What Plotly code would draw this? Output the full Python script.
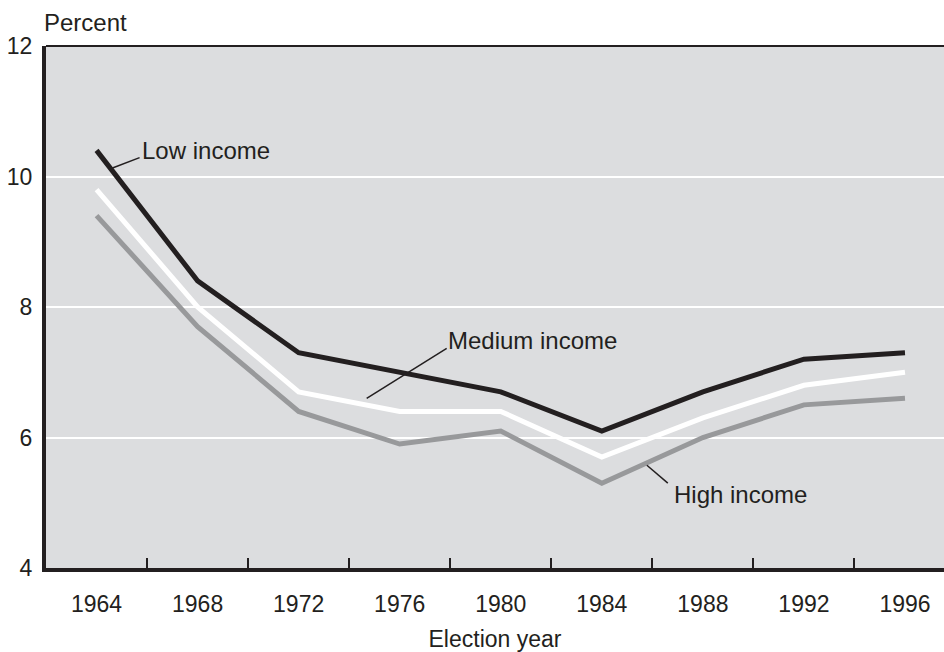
import plotly.graph_objects as go

years = ["1964", "1968", "1972", "1976", "1980", "1984", "1988", "1992", "1996"]
low_income = [10.4, 8.4, 7.3, 7.0, 6.7, 6.1, 6.7, 7.2, 7.3]
medium_income = [9.8, 8.0, 6.7, 6.4, 6.4, 5.7, 6.3, 6.8, 7.0]
high_income = [9.4, 7.7, 6.4, 5.9, 6.1, 5.3, 6.0, 6.5, 6.6]
y_ticks = [4, 6, 8, 10, 12]

FONT = "Liberation Sans, Arial, sans-serif"
DARK = "#231f20"
GREY = "#98999b"
BG = "#dcdddf"
FS = 23
FS_LABEL = 24

fig = go.Figure()
fig.add_trace(go.Scatter(x=years, y=high_income, mode="lines",
                         line=dict(color=GREY, width=5), name="High income"))
fig.add_trace(go.Scatter(x=years, y=medium_income, mode="lines",
                         line=dict(color="white", width=5), name="Medium income"))
fig.add_trace(go.Scatter(x=years, y=low_income, mode="lines",
                         line=dict(color=DARK, width=5), name="Low income"))

# leader lines
leaders = [
    (0.158, 10.13, 0.426, 10.29),
    (2.673, 6.60, 3.465, 7.365),
    (5.446, 5.575, 5.653, 5.30),
]
for x0, y0, x1, y1 in leaders:
    fig.add_shape(type="line", xref="x", yref="y", x0=x0, y0=y0, x1=x1, y1=y1,
                  line=dict(color=DARK, width=1.5))

labels = [
    ("Low income", 0.43, 10.40),
    ("Medium income", 3.46, 7.49),
    ("High income", 5.69, 5.12),
]
for txt, x, y in labels:
    fig.add_annotation(text=txt, x=x, y=y, xref="x", yref="y", showarrow=False,
                       xanchor="left", yanchor="middle",
                       font=dict(family=FONT, size=FS_LABEL, color=DARK))

fig.add_annotation(text="Percent", xref="paper", yref="paper", x=0, y=1,
                   yshift=24, xshift=-4, xanchor="left", yanchor="middle",
                   showarrow=False,
                   font=dict(family=FONT, size=FS_LABEL, color=DARK))

# top border
fig.add_shape(type="line", xref="paper", yref="paper", x0=0, x1=1, y0=1, y1=1,
              line=dict(color=DARK, width=2))

fig.update_layout(
    width=944, height=652,
    margin=dict(l=46, r=0, t=46, b=84),
    paper_bgcolor="white", plot_bgcolor=BG,
    showlegend=False,
    font=dict(family=FONT, size=FS, color=DARK),
    xaxis=dict(type="category", range=[-0.5, 8.386], tickson="boundaries",
               ticks="inside", ticklen=10, tickwidth=2, tickcolor=DARK,
               showline=True, linecolor=DARK, linewidth=4, showgrid=False,
               zeroline=False, ticklabelstandoff=12, automargin=False,
               title=dict(text="Election year", standoff=20,
                          font=dict(family=FONT, size=FS, color=DARK))),
    yaxis=dict(range=[4, 12], tickvals=y_ticks, showgrid=True, gridcolor="white",
               gridwidth=2, showline=True, linecolor=DARK, linewidth=4,
               zeroline=False, ticks="", ticklabelstandoff=5, automargin=False),
)

fig.write_html("out.html",
               config={"displayModeBar": False},
               post_script="document.body.style.margin='0px';"
                           "document.body.style.overflow='hidden';")
